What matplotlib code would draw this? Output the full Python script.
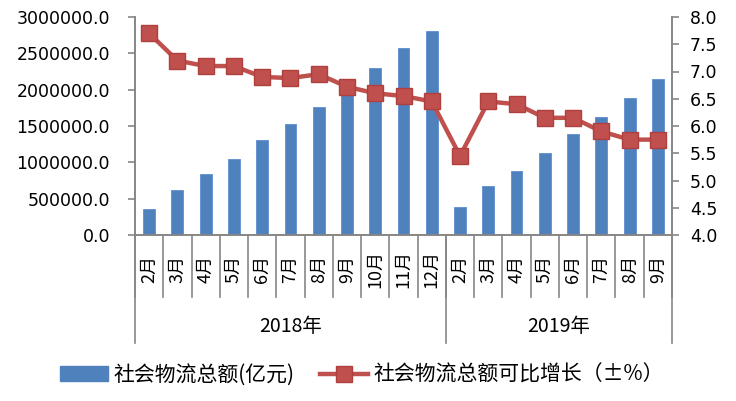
import matplotlib
import matplotlib.pyplot as plt
from matplotlib.lines import Line2D
from matplotlib.patches import Patch

matplotlib.use("Agg")

plt.rcParams["font.family"] = ["Noto Sans CJK SC", "DejaVu Sans"]

# data
months = ["2月", "3月", "4月", "5月", "6月", "7月", "8月", "9月", "10月", "11月", "12月",
          "2月", "3月", "4月", "5月", "6月", "7月", "8月", "9月"]
years = ["2018年", "2019年"]
year_counts = [11, 8]
total = [358000, 619000, 835000, 1046000, 1307000, 1523000, 1757000, 2050000,
         2302000, 2569000, 2807000,
         385000, 670000, 885000, 1124000, 1385000, 1620000, 1881000, 2143000]
growth = [7.7, 7.2, 7.1, 7.1, 6.9, 6.88, 6.95, 6.72, 6.6, 6.55, 6.45,
          5.45, 6.45, 6.4, 6.15, 6.15, 5.9, 5.75, 5.75]

bar_color = "#4F81BD"
line_color = "#C0504D"
axis_gray = "#868686"

W, H = 736, 401
fig = plt.figure(figsize=(W / 100, H / 100), dpi=100)
ax = fig.add_axes([135 / W, (H - 235) / H, (672 - 135) / W, (235 - 17) / H])
ax2 = ax.twinx()

x = list(range(len(months)))
ax.bar(x, total, width=0.42, color=bar_color, edgecolor="#5B8ED0", linewidth=0.6)
ax.set_xlim(-0.5, len(months) - 0.5)
ax.set_ylim(0, 3000000)
ax.set_yticks([i * 500000 for i in range(7)])
ax.yaxis.set_major_formatter(matplotlib.ticker.FormatStrFormatter("%.1f"))
ax.set_xticks([])

ax2.plot(x, growth, color=line_color, lw=3.2, marker="s", markersize=12,
         markerfacecolor=line_color, markeredgecolor="#B0403D", markeredgewidth=1)
ax2.set_ylim(4.0, 8.0)
ax2.set_yticks([4.0 + 0.5 * i for i in range(9)])
ax2.yaxis.set_major_formatter(matplotlib.ticker.FormatStrFormatter("%.1f"))

for a in (ax, ax2):
    a.spines["top"].set_visible(False)
    for s in ("left", "right", "bottom"):
        a.spines[s].set_color(axis_gray)
        a.spines[s].set_linewidth(1.2)
ax.tick_params(axis="y", length=5, width=1.2, color=axis_gray, pad=13, labelsize=12.5)
ax2.tick_params(axis="y", length=5, width=1.2, color=axis_gray, pad=8, labelsize=12.5)
for lbl in ax.get_yticklabels() + ax2.get_yticklabels():
    lbl.set_family("DejaVu Sans")

# multi-level category axis
tr = ax.get_xaxis_transform()
month_sep = -62 / 218
year_sep = -108 / 218
for k in range(len(months) + 1):
    ax.plot([k - 0.5, k - 0.5], [0, month_sep], transform=tr, color=axis_gray,
            lw=1.2, clip_on=False)
for i, m in enumerate(months):
    ax.text(i, -34 / 218, m, transform=tr, rotation=90, ha="center", va="center",
            fontsize=13)

start = 0
bounds = [start]
for c in year_counts:
    start += c
    bounds.append(start)
for b in bounds:
    ax.plot([b - 0.5, b - 0.5], [0, year_sep], transform=tr, color=axis_gray,
            lw=1.2, clip_on=False)
for y, lo, hi in zip(years, bounds[:-1], bounds[1:]):
    ax.text((lo + hi - 1) / 2, -92 / 218, y, transform=tr, ha="center",
            va="center", fontsize=14)

handles = [
    Patch(facecolor=bar_color, edgecolor=bar_color),
    Line2D([], [], color=line_color, lw=3.2, marker="s", markersize=12,
           markerfacecolor=line_color, markeredgecolor="#B0403D"),
]
labels = ["社会物流总额(亿元)", "社会物流总额可比增长（±%）"]
fig.legend(handles, labels, loc="center", bbox_to_anchor=(362 / W, 26 / H),
           ncol=2, frameon=False, fontsize=15, handlelength=2.3,
           handletextpad=0.3, columnspacing=1.2)

fig.savefig("out.png", dpi=100)
